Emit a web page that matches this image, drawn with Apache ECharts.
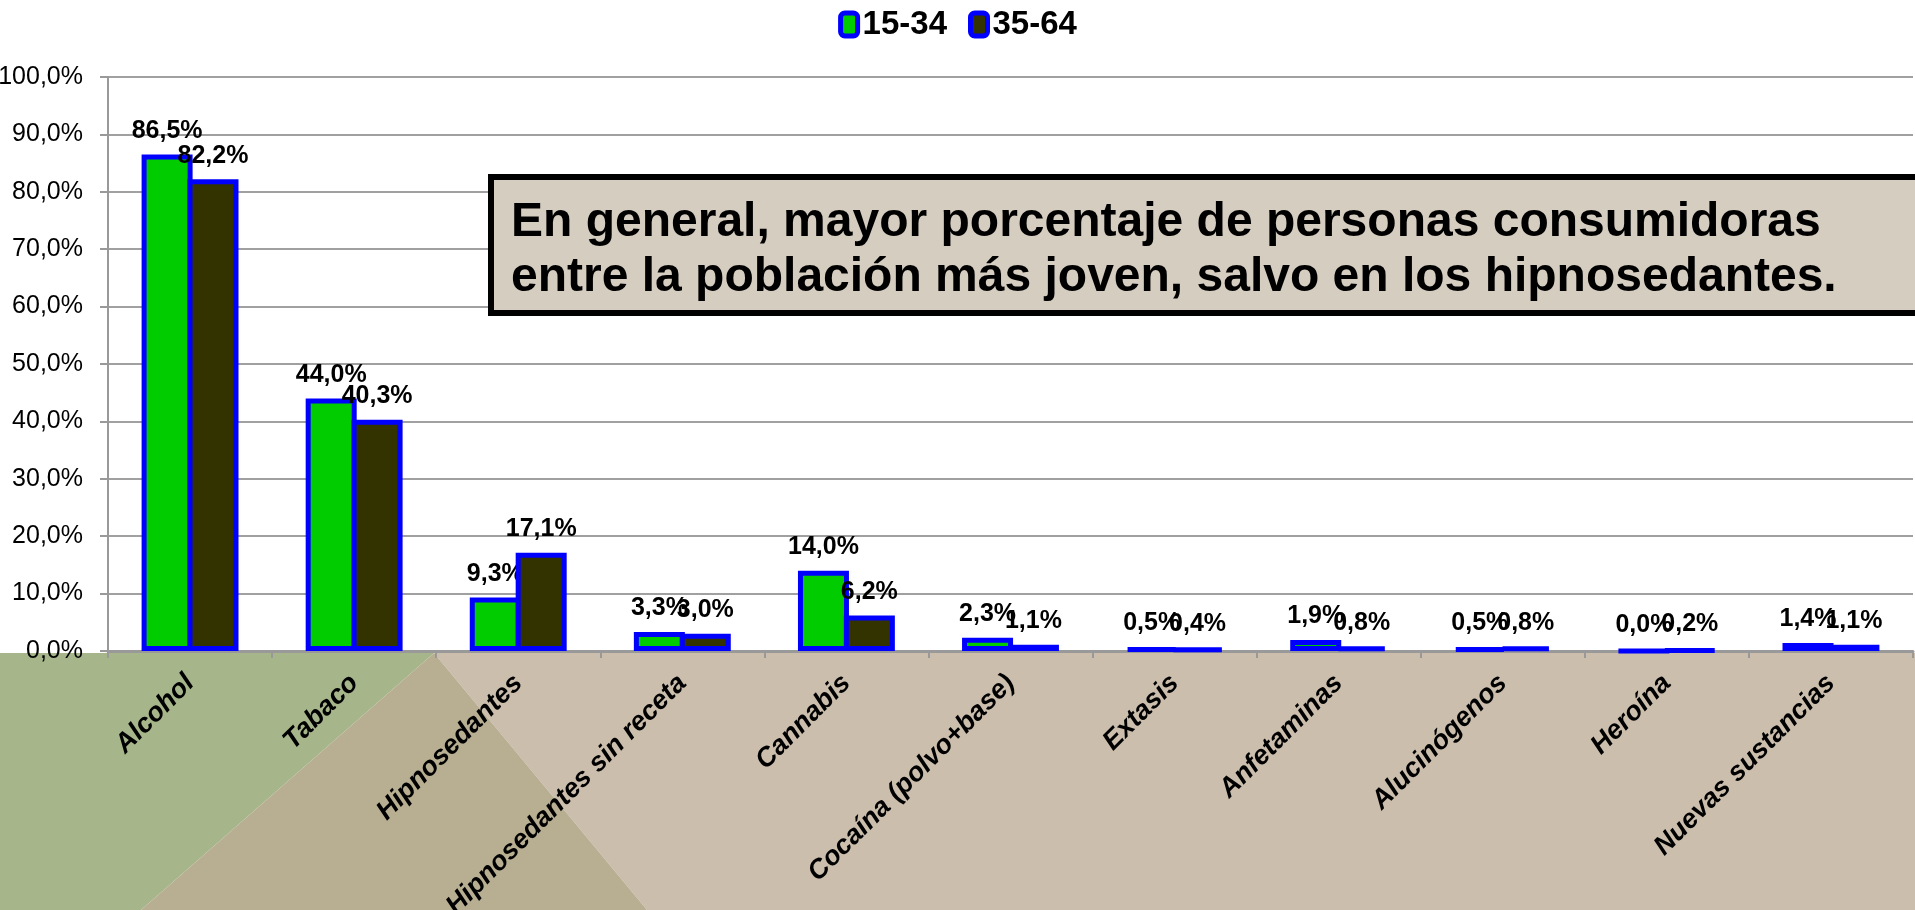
<!DOCTYPE html>
<html>
<head>
<meta charset="utf-8">
<script src="https://cdn.jsdelivr.net/npm/echarts@6/dist/echarts.min.js"></script>
<style>
html,body{margin:0;padding:0;background:#fff;}
#chart{width:1915px;height:910px;}
</style>
</head>
<body>
<div id="chart"></div>
<script>
const categories = ['Alcohol','Tabaco','Hipnosedantes','Hipnosedantes sin receta','Cannabis','Cocaína (polvo+base)','Extasis','Anfetaminas','Alucinógenos','Heroína','Nuevas sustancias'];
const seriesNames = ['15-34','35-64'];
const values1534 = [86.5,44.0,9.3,3.3,14.0,2.3,0.5,1.9,0.5,0.0,1.4];
const values3564 = [82.2,40.3,17.1,3.0,6.2,1.1,0.4,0.8,0.8,0.2,1.1];
const noteLines = ['En general, mayor porcentaje de personas consumidoras','entre la población más joven, salvo en los hipnosedantes.'];

const FONT = '"Liberation Sans", Arial, sans-serif';
const fmt = v => v.toFixed(1).replace('.', ',') + '%';

const chart = echarts.init(document.getElementById('chart'), null, {renderer:'canvas'});

const labelCfg = {
  show: true, position: 'top', distance: 11,
  fontFamily: FONT, fontWeight: 'bold', fontSize: 25, color: '#000',
  formatter: p => fmt(p.value)
};

chart.setOption({
  animation: false,
  backgroundColor: '#fff',
  legend: {
    data: seriesNames,
    top: 3, left: 'center',
    itemWidth: 17, itemHeight: 23, itemGap: 21,
    textStyle: {fontFamily: FONT, fontWeight: 'bold', fontSize: 33, color: '#000'},
    itemStyle: {borderColor: '#0000FF', borderWidth: 5}
  },
  grid: {left: 108, right: 2, top: 77, bottom: 259, containLabel: false, outerBoundsMode: 'none'},
  xAxis: {
    type: 'category', data: categories, boundaryGap: true,
    axisLine: {lineStyle: {color: '#999', width: 3}},
    axisTick: {show: true, length: 7, lineStyle: {color: '#999', width: 2}},
    axisLabel: {
      rotate: 45, interval: 0, margin: 28,
      fontFamily: FONT, fontWeight: 'bold', fontStyle: 'italic', fontSize: 27, color: '#000'
    }
  },
  yAxis: {
    type: 'value', min: 0, max: 100, interval: 10,
    axisLine: {show: true, lineStyle: {color: '#999', width: 2}},
    axisTick: {show: true, length: 8, lineStyle: {color: '#999', width: 2}},
    splitLine: {show: true, lineStyle: {color: '#A0A0A0', width: 2}},
    axisLabel: {
      margin: 25, fontFamily: FONT, fontSize: 25, color: '#000',
      formatter: v => v.toFixed(1).replace('.', ',') + '%'
    }
  },
  series: [
    {
      name: seriesNames[0], type: 'bar', data: values1534,
      barWidth: 51, barGap: '-10%',
      itemStyle: {color: '#00CC00', borderColor: '#0000FF', borderWidth: 5},
      label: labelCfg, z: 3
    },
    {
      name: seriesNames[1], type: 'bar', data: values3564,
      barWidth: 51, barGap: '-10%',
      itemStyle: {color: '#333300', borderColor: '#0000FF', borderWidth: 5},
      label: labelCfg, z: 4
    }
  ],
  graphic: [
    {type: 'polygon', z: -10, silent: true,
     shape: {points: [[434,653],[1915,653],[1915,910],[647,910]]}, style: {fill: '#CBBEAD'}},
    {type: 'polygon', z: -10, silent: true,
     shape: {points: [[0,653],[434,653],[141,910],[0,910]]}, style: {fill: '#A6B68A'}},
    {type: 'polygon', z: -10, silent: true,
     shape: {points: [[434,653],[647,910],[141,910]]}, style: {fill: '#B8AE92'}},
    {type: 'rect', z: 100, silent: true,
     shape: {x: 491, y: 177, width: 1500, height: 136},
     style: {fill: '#D6CDC1', stroke: '#000', lineWidth: 6}},
    {type: 'text', z: 101, silent: true, x: 511, y: 195,
     style: {text: noteLines.join('\n'), fontFamily: FONT, fontWeight: 'bold', fontSize: 48,
             lineHeight: 55, fill: '#000', textAlign: 'left', textVerticalAlign: 'top'}}
  ]
});
</script>
</body>
</html>
